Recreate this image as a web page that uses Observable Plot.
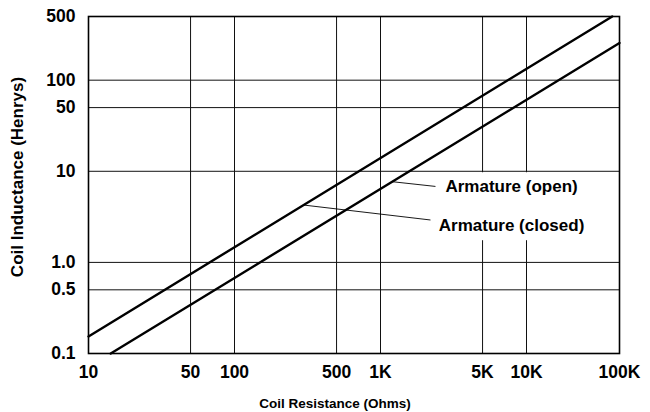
<!DOCTYPE html>
<html><head><meta charset="utf-8">
<script src="https://cdn.jsdelivr.net/npm/d3@7"></script>
<script src="https://cdn.jsdelivr.net/npm/@observablehq/plot@0.6"></script>
<style>
html,body{margin:0;padding:0;background:#fff;}
</style>
</head><body><div id="chart"></div>
<script>
// ---- data ----
const xTicks = [10, 50, 100, 500, 1000, 5000, 10000, 100000];
const xTickLabels = ["10", "50", "100", "500", "1K", "5K", "10K", "100K"];
const yTicks = [0.1, 0.5, 1, 10, 50, 100, 500];
const yTickLabels = ["0.1", "0.5", "1.0", "10", "50", "100", "500"];

// upper line (Armature closed) and lower line (Armature open): resistance (ohms) vs inductance (H)
const closedR = [10, 83500];
const closedL = [0.154, 500];
const openR = [14.2, 100000];
const openL = [0.1, 256];

// annotations
const labelText = ["Armature (open)", "Armature (closed)"];
const labelR = [7900, 7900];
const labelL = [6.8, 2.52];
const leaderFromR = [1200, 298];
const leaderFromL = [7.69, 4.26];
const leaderToR = [2380, 2200];
const leaderToL = [6.82, 2.92];
const boxR = [2270, 62500];
const boxL = [1.73, 9.64];

// ---- layout ----
const W = 650, H = 412;
const mL = 88, mR = 31, mT = 16, mB = 59;
const plotW = W - mL - mR;
// the reference compresses its last decade (10K..100K)
const firstDecades = 438 / 531;

const closed = closedR.map((r, i) => ({r, l: closedL[i]}));
const open = openR.map((r, i) => ({r, l: openL[i]}));
const labels = labelText.map((t, i) => ({t, r: labelR[i], l: labelL[i]}));
const leaders = leaderFromR.map((r, i) => ({r1: r, l1: leaderFromL[i], r2: leaderToR[i], l2: leaderToL[i]}));

const chart = Plot.plot({
  width: W, height: H,
  marginLeft: mL, marginRight: mR, marginTop: mT, marginBottom: mB,
  style: {fontFamily: "'Liberation Sans', Arial, sans-serif", fontWeight: "bold", color: "#000", background: "#fff"},
  x: {type: "log", domain: [10, 10000, 100000], range: [mL, mL + plotW * firstDecades, W - mR], axis: null},
  y: {type: "log", domain: [0.1, 500], axis: null},
  marks: [
    Plot.gridX({ticks: xTicks, stroke: "#111", strokeOpacity: 1, strokeWidth: 1}),
    Plot.gridY({ticks: yTicks, stroke: "#111", strokeOpacity: 1, strokeWidth: 1}),
    Plot.rect([0], {x1: () => boxR[0], x2: () => boxR[1], y1: () => boxL[0], y2: () => boxL[1], fill: "white"}),
    Plot.frame({stroke: "#000", strokeWidth: 1.6}),
    Plot.line(closed, {x: "r", y: "l", stroke: "#000", strokeWidth: 2.4}),
    Plot.line(open, {x: "r", y: "l", stroke: "#000", strokeWidth: 2.4}),
    Plot.link(leaders, {x1: "r1", y1: "l1", x2: "r2", y2: "l2", stroke: "#000", strokeWidth: 0.9}),
    Plot.text(labels, {x: "r", y: "l", text: "t", fontSize: 17, fontWeight: "bold", textAnchor: "middle", fill: "#000"}),
    // tick labels
    Plot.text(xTicks, {x: d => d, text: (d, i) => xTickLabels[i], frameAnchor: "bottom", lineAnchor: "top", textAnchor: "middle", dy: 12, fontSize: 17.5, fontWeight: "bold", fill: "#000"}),
    Plot.text(yTicks, {y: d => d, text: (d, i) => yTickLabels[i], frameAnchor: "left", textAnchor: "end", lineAnchor: "middle", dx: -13, fontSize: 17.5, fontWeight: "bold", fill: "#000"}),
    // axis titles
    Plot.text(["Coil Resistance (Ohms)"], {frameAnchor: "bottom", textAnchor: "middle", lineAnchor: "middle", dx: -19, dy: 50, fontSize: 13.5, fontWeight: "bold", fill: "#000"}),
    Plot.text(["Coil Inductance (Henrys)"], {frameAnchor: "left", textAnchor: "middle", lineAnchor: "middle", rotate: -90, dx: -71, dy: -8, fontSize: 17, fontWeight: "bold", fill: "#000"})
  ]
});
document.getElementById("chart").appendChild(chart);
</script>
</body></html>
